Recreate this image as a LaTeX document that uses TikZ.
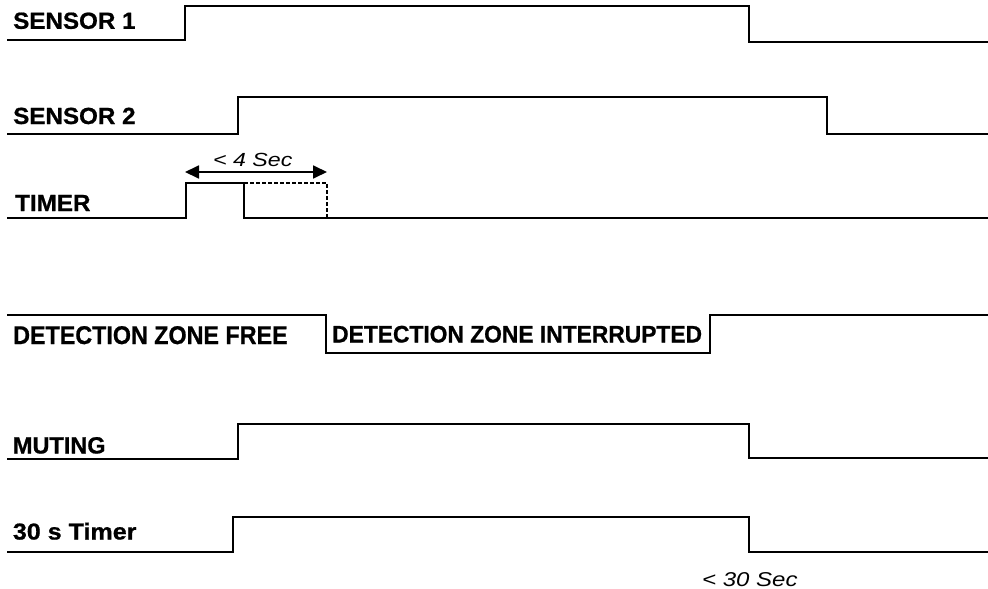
\documentclass[tikz,border=0pt]{standalone}
\usepackage{fontspec}
\setmainfont{Liberation Sans}[BoldFeatures={FakeBold=0.8}]
\usetikzlibrary{arrows.meta}
\tikzset{
  sig/.style={line width=1.9pt, line join=miter, black},
  dsig/.style={line width=1.4pt, black, dash pattern=on 3.5pt off 2.5pt},
  lbl/.style={anchor=base west, inner sep=0pt, font=\bfseries},
  ital/.style={anchor=base west, inner sep=0pt, font=\itshape},
  dim/.style={line width=1.8pt, {Triangle[length=14pt,width=13pt]}-{Triangle[length=14pt,width=13pt]}}
}
\begin{document}
\begin{tikzpicture}[x=1pt,y=-1pt]
\useasboundingbox (0,0) rectangle (988,589);
% SENSOR 1
\draw[sig] (7,40) -- (185,40) -- (185,6) -- (749,6) -- (749,42) -- (988,42);
\node[lbl] (s1) at (13,28.8) {\fontsize{22}{26}\selectfont\scalebox{1.1}[1.06]{SENSOR 1}};
% SENSOR 2
\draw[sig] (7,134) -- (238,134) -- (238,97) -- (827,97) -- (827,134) -- (988,134);
\node[lbl] (s2) at (13,124) {\fontsize{22}{26}\selectfont\scalebox{1.1}[1.06]{SENSOR 2}};
% TIMER
\draw[sig] (7,218) -- (186,218) -- (186,183) -- (244,183) -- (244,218) -- (988,218);
\draw[dsig] (244,183) -- (327,183) -- (327,218);
\coordinate (aL) at (185,172);
\coordinate (aR) at (327,172);
\draw[dim] (aL) -- (aR);
\node[ital] (t4) at (213,166.5) {\fontsize{19}{22}\selectfont\scalebox{1.22}[1]{< 4 Sec}};
\node[lbl] (tm) at (15,211) {\fontsize{22}{26}\selectfont\scalebox{1.1}[1.06]{TIMER}};
% DETECTION ZONE
\draw[sig] (7,315) -- (326,315) -- (326,353) -- (710,353) -- (710,315) -- (988,315);
\node[lbl] (dzf) at (13,344) {\fontsize{23.3}{27}\selectfont\scalebox{1}[1.1]{DETECTION ZONE FREE}};
\node[lbl] (dzi) at (332,342.5) {\fontsize{22.8}{27}\selectfont\scalebox{1}[1.05]{DETECTION ZONE INTERRUPTED}};
% MUTING
\draw[sig] (7,459) -- (238,459) -- (238,424) -- (749,424) -- (749,458) -- (988,458);
\node[lbl] (mu) at (12.7,453.5) {\fontsize{23.5}{27}\selectfont MUTING};
% 30 s Timer
\draw[sig] (7,552) -- (233,552) -- (233,517) -- (749,517) -- (749,552) -- (988,552);
\node[lbl] (t30) at (12.7,539.5) {\fontsize{23}{27}\selectfont\scalebox{1.09}[1]{30 s Timer}};
\node[ital] (s30) at (702,586) {\fontsize{20}{24}\selectfont\scalebox{1.2}[1]{< 30 Sec}};
\end{tikzpicture}
\end{document}
